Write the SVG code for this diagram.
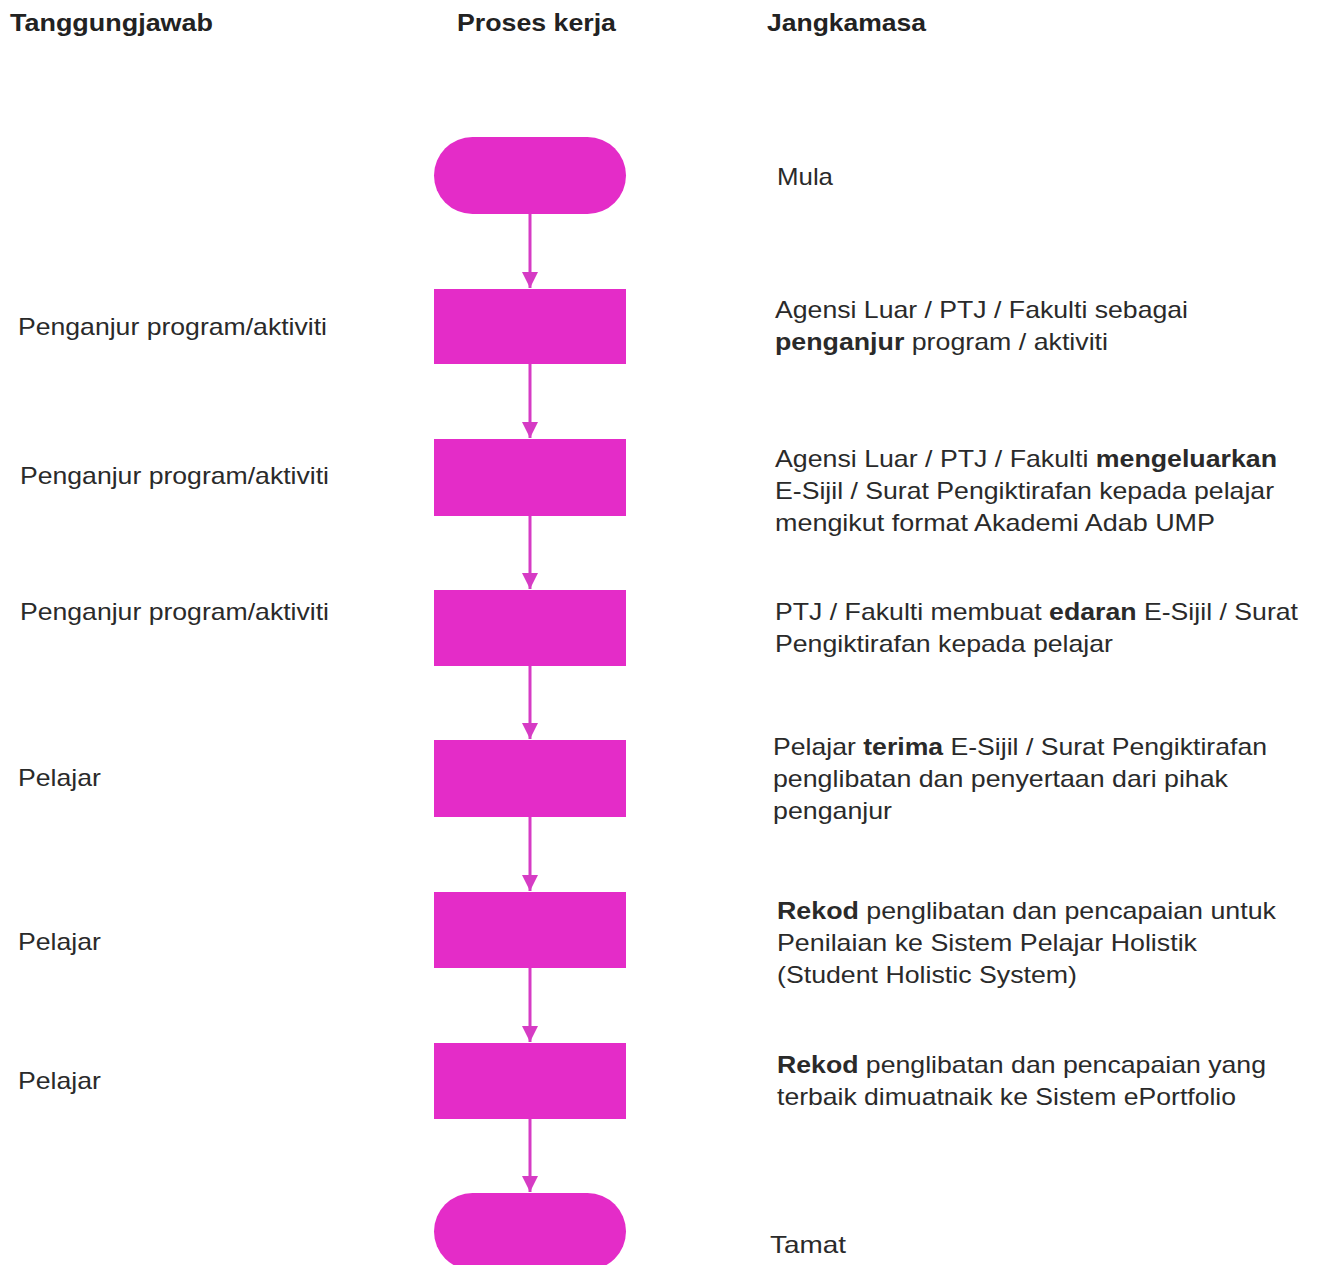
<svg xmlns="http://www.w3.org/2000/svg" width="1320" height="1265" viewBox="0 0 1320 1265">
<style>
text{font-family:"Liberation Sans",Arial,sans-serif;font-size:24px;fill:#2a2a2a}
.h{font-weight:bold;font-size:24px;fill:#222}
.b{font-weight:bold}
.node{fill:#e42cc8}
.conn line{stroke:#d63bc4;stroke-width:3}
</style>
<defs>
<marker id="arr" viewBox="0 0 10 10" refX="10" refY="5" markerWidth="18" markerHeight="16" markerUnits="userSpaceOnUse" orient="auto">
<path d="M0,0 L10,5 L0,10 Z" fill="#d63bc4"/>
</marker>
</defs>
<rect width="1320" height="1265" fill="#fff"/>
<g id="headers">
<text class="h" x="10" y="31" textLength="203" lengthAdjust="spacingAndGlyphs">Tanggungjawab</text>
<text class="h" x="457" y="31" textLength="159" lengthAdjust="spacingAndGlyphs">Proses kerja</text>
<text class="h" x="767" y="31" textLength="159" lengthAdjust="spacingAndGlyphs">Jangkamasa</text>
</g>
<g class="conn" id="connectors">
<line x1="530" y1="214" x2="530" y2="288" marker-end="url(#arr)"/>
<line x1="530" y1="364" x2="530" y2="438" marker-end="url(#arr)"/>
<line x1="530" y1="516" x2="530" y2="589" marker-end="url(#arr)"/>
<line x1="530" y1="666" x2="530" y2="739" marker-end="url(#arr)"/>
<line x1="530" y1="817" x2="530" y2="891" marker-end="url(#arr)"/>
<line x1="530" y1="968" x2="530" y2="1042" marker-end="url(#arr)"/>
<line x1="530" y1="1119" x2="530" y2="1192" marker-end="url(#arr)"/>
</g>
<g id="start">
<rect class="node" x="434" y="137" width="192" height="77" rx="38.5"/>
<text x="777" y="185" textLength="56" lengthAdjust="spacingAndGlyphs">Mula</text>
</g>
<g id="step1">
<rect class="node" x="434" y="289" width="192" height="75"/>
<text x="18" y="335" textLength="309" lengthAdjust="spacingAndGlyphs">Penganjur program/aktiviti</text>
<text x="775" y="318" textLength="413" lengthAdjust="spacingAndGlyphs">Agensi Luar / PTJ / Fakulti sebagai</text>
<text x="775" y="350" textLength="333" lengthAdjust="spacingAndGlyphs"><tspan class="b">penganjur</tspan> program / aktiviti</text>
</g>
<g id="step2">
<rect class="node" x="434" y="439" width="192" height="77"/>
<text x="20" y="484" textLength="309" lengthAdjust="spacingAndGlyphs">Penganjur program/aktiviti</text>
<text x="775" y="467" textLength="502" lengthAdjust="spacingAndGlyphs">Agensi Luar / PTJ / Fakulti <tspan class="b">mengeluarkan</tspan></text>
<text x="775" y="499" textLength="499" lengthAdjust="spacingAndGlyphs">E-Sijil / Surat Pengiktirafan kepada pelajar</text>
<text x="775" y="531" textLength="440" lengthAdjust="spacingAndGlyphs">mengikut format Akademi Adab UMP</text>
</g>
<g id="step3">
<rect class="node" x="434" y="590" width="192" height="76"/>
<text x="20" y="620" textLength="309" lengthAdjust="spacingAndGlyphs">Penganjur program/aktiviti</text>
<text x="775" y="620" textLength="523" lengthAdjust="spacingAndGlyphs">PTJ / Fakulti membuat <tspan class="b">edaran</tspan> E-Sijil / Surat</text>
<text x="775" y="652" textLength="338" lengthAdjust="spacingAndGlyphs">Pengiktirafan kepada pelajar</text>
</g>
<g id="step4">
<rect class="node" x="434" y="740" width="192" height="77"/>
<text x="18" y="786" textLength="83" lengthAdjust="spacingAndGlyphs">Pelajar</text>
<text x="773" y="755" textLength="494" lengthAdjust="spacingAndGlyphs">Pelajar <tspan class="b">terima</tspan> E-Sijil / Surat Pengiktirafan</text>
<text x="773" y="787" textLength="455" lengthAdjust="spacingAndGlyphs">penglibatan dan penyertaan dari pihak</text>
<text x="773" y="819" textLength="119" lengthAdjust="spacingAndGlyphs">penganjur</text>
</g>
<g id="step5">
<rect class="node" x="434" y="892" width="192" height="76"/>
<text x="18" y="950" textLength="83" lengthAdjust="spacingAndGlyphs">Pelajar</text>
<text x="777" y="919" textLength="499" lengthAdjust="spacingAndGlyphs"><tspan class="b">Rekod</tspan> penglibatan dan pencapaian untuk</text>
<text x="777" y="951" textLength="420" lengthAdjust="spacingAndGlyphs">Penilaian ke Sistem Pelajar Holistik</text>
<text x="777" y="983" textLength="300" lengthAdjust="spacingAndGlyphs">(Student Holistic System)</text>
</g>
<g id="step6">
<rect class="node" x="434" y="1043" width="192" height="76"/>
<text x="18" y="1089" textLength="83" lengthAdjust="spacingAndGlyphs">Pelajar</text>
<text x="777" y="1073" textLength="489" lengthAdjust="spacingAndGlyphs"><tspan class="b">Rekod</tspan> penglibatan dan pencapaian yang</text>
<text x="777" y="1105" textLength="459" lengthAdjust="spacingAndGlyphs">terbaik dimuatnaik ke Sistem ePortfolio</text>
</g>
<g id="end">
<rect class="node" x="434" y="1193" width="192" height="77" rx="38.5"/>
<text x="770" y="1253" textLength="76" lengthAdjust="spacingAndGlyphs">Tamat</text>
</g>
</svg>
